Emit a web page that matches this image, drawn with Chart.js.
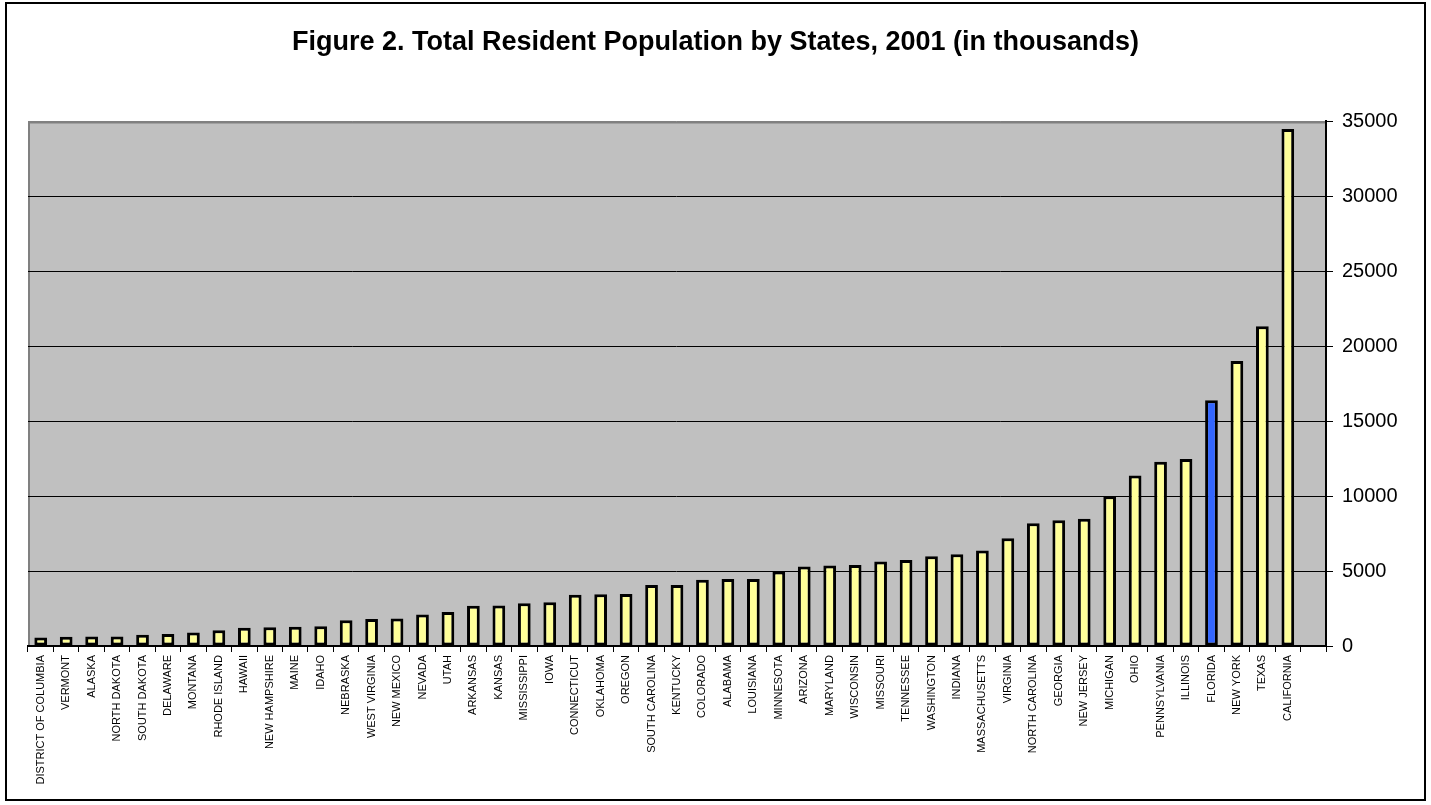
<!DOCTYPE html>
<html>
<head>
<meta charset="utf-8">
<script src="https://cdn.jsdelivr.net/npm/chart.js@4.4.1/dist/chart.umd.min.js"></script>
<style>
  html, body { margin: 0; padding: 0; background: #fff; }
  #wrap { width: 1431px; height: 805px; }
</style>
</head>
<body>
<div id="wrap"><canvas id="popChart" width="1431" height="805"></canvas></div>
<script>
// Data (in thousands)
const states = [
  'DISTRICT OF COLUMBIA','VERMONT','ALASKA','NORTH DAKOTA','SOUTH DAKOTA','DELAWARE','MONTANA',
  'RHODE ISLAND','HAWAII','NEW HAMPSHIRE','MAINE','IDAHO','NEBRASKA','WEST VIRGINIA','NEW MEXICO',
  'NEVADA','UTAH','ARKANSAS','KANSAS','MISSISSIPPI','IOWA','CONNECTICUT','OKLAHOMA','OREGON',
  'SOUTH CAROLINA','KENTUCKY','COLORADO','ALABAMA','LOUISIANA','MINNESOTA','ARIZONA','MARYLAND',
  'WISCONSIN','MISSOURI','TENNESSEE','WASHINGTON','INDIANA','MASSACHUSETTS','VIRGINIA',
  'NORTH CAROLINA','GEORGIA','NEW JERSEY','MICHIGAN','OHIO','PENNSYLVANIA','ILLINOIS','FLORIDA',
  'NEW YORK','TEXAS','CALIFORNIA',''
];
const population = [
  572, 613, 634, 634, 757, 796, 904,
  1059, 1224, 1259, 1287, 1321, 1713, 1801, 1829,
  2106, 2269, 2692, 2695, 2858, 2923, 3425, 3460, 3473,
  4063, 4066, 4417, 4464, 4465, 4972, 5307, 5375,
  5402, 5630, 5740, 5988, 6115, 6379, 7187,
  8186, 8383, 8484, 9990, 11374, 12287, 12482, 16397,
  19011, 21325, 34501, null
];
const yTicks = [0, 5000, 10000, 15000, 20000, 25000, 30000, 35000];
const highlight = 'FLORIDA';

const barColors = states.map(s => s === highlight ? '#3366FF' : '#FFFF99');

// background, plot area fill and outer frame
const frame = {
  id: 'frame',
  beforeDraw(chart) {
    const { ctx, chartArea: a } = chart;
    ctx.save();
    ctx.fillStyle = '#fff';
    ctx.fillRect(0, 0, chart.width, chart.height);
    ctx.fillStyle = '#C0C0C0';
    ctx.fillRect(a.left, a.top, a.right - a.left, a.bottom - a.top);
    ctx.strokeStyle = '#808080';
    ctx.lineWidth = 2;
    ctx.beginPath();
    ctx.moveTo(a.left + 1, a.bottom);
    ctx.lineTo(a.left + 1, a.top + 1);
    ctx.lineTo(a.right, a.top + 1);
    ctx.stroke();
    ctx.restore();
  },
  afterDraw(chart) {
    const ctx = chart.ctx;
    ctx.save();
    ctx.strokeStyle = '#000';
    ctx.lineWidth = 2;
    ctx.strokeRect(6, 3, 1419, 797);
    ctx.restore();
  }
};

new Chart(document.getElementById('popChart'), {
  type: 'bar',
  data: {
    labels: states,
    datasets: [{
      data: population,
      backgroundColor: barColors,
      borderColor: '#000',
      borderWidth: 3,
      borderSkipped: false,
      categoryPercentage: 1,
      barPercentage: 0.5
    }]
  },
  options: {
    responsive: false,
    animation: false,
    devicePixelRatio: 1,
    // equal side padding keeps the title centred on the page
    layout: { padding: { left: 28, right: 28, top: 0, bottom: 0 } },
    plugins: {
      legend: { display: false },
      tooltip: { enabled: false },
      title: {
        display: true,
        text: 'Figure 2. Total Resident Population by States, 2001 (in thousands)',
        color: '#000',
        font: { family: 'Liberation Sans, Arial, sans-serif', size: 27, weight: 'bold' },
        padding: { top: 26, bottom: 63 }
      }
    },
    scales: {
      x: {
        afterFit: s => { s.height = 159; },
        border: { color: '#000', width: 2 },
        grid: { offset: true, drawOnChartArea: false, drawTicks: true, tickLength: 6, color: '#000', tickColor: '#000' },
        ticks: {
          autoSkip: false, maxRotation: 90, minRotation: 90, padding: 3,
          color: '#000', font: { family: 'Liberation Sans, Arial, sans-serif', size: 11 }
        }
      },
      y: {
        position: 'right',
        min: yTicks[0], max: yTicks[yTicks.length - 1],
        afterFit: s => { s.width = 77; },
        afterBuildTicks: s => { s.ticks = yTicks.map(v => ({ value: v })); },
        border: { color: '#000', width: 2 },
        grid: {
          color: c => (c.tick && c.tick.value === 35000) ? '#808080' : '#000',
          tickColor: '#000', tickLength: 7, lineWidth: 1
        },
        ticks: {
          padding: 9,
          color: '#000',
          font: { family: 'Liberation Sans, Arial, sans-serif', size: 20 },
          callback: v => String(v)
        }
      }
    }
  },
  plugins: [frame]
});
</script>
</body>
</html>
